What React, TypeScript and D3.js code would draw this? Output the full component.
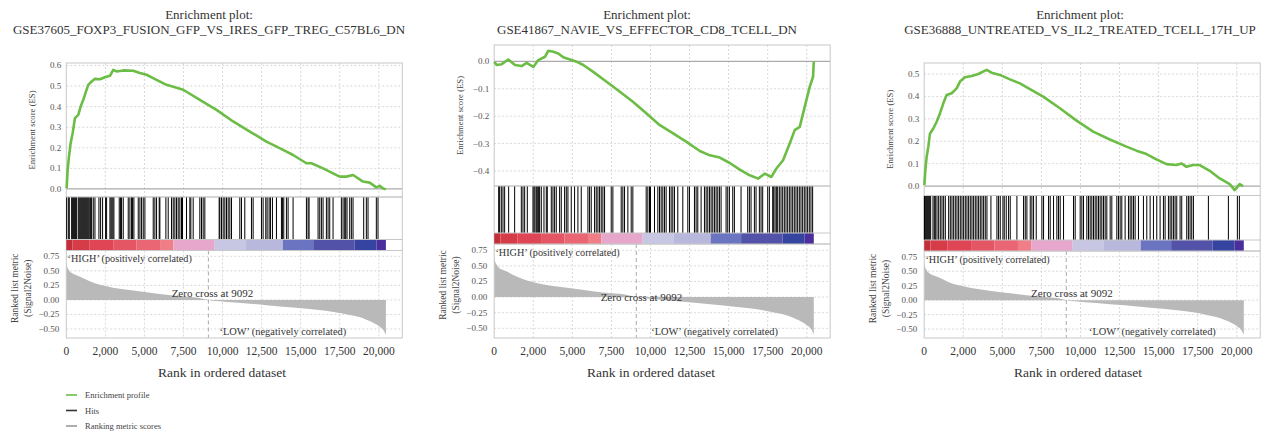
import React from "react";
import * as d3 from "d3";

// ---- data ----
const titles = [
  "GSE37605_FOXP3_FUSION_GFP_VS_IRES_GFP_TREG_C57BL6_DN",
  "GSE41867_NAVIE_VS_EFFECTOR_CD8_TCELL_DN",
  "GSE36888_UNTREATED_VS_IL2_TREATED_TCELL_17H_UP",
];

const xTicks = [0, 2500, 5000, 7500, 10000, 12500, 15000, 17500, 20000];
const xTickLabels = ["0", "2,000", "5,000", "7,500", "10,000", "12,500", "15,000", "17,500", "20,000"];
const zeroCross = 9092;
const listSize = 20450;

// enrichment profiles (rank, ES)
const esRank1 = [21, 85, 170, 277, 405, 554, 767, 916, 1087, 1257, 1406, 1620, 1833, 2152, 2472, 2792, 3005, 3218, 3644, 4283, 4710, 5136, 5775, 6414, 7480, 8545, 9611, 10676, 11742, 12807, 13873, 14512, 15365, 15685, 16430, 17069, 17495, 17921, 18348, 18987, 19413, 19839, 20052, 20266, 20450];
const esScore1 = [0.003, 0.092, 0.157, 0.222, 0.271, 0.344, 0.36, 0.4, 0.433, 0.473, 0.506, 0.522, 0.535, 0.533, 0.543, 0.55, 0.579, 0.571, 0.576, 0.574, 0.563, 0.555, 0.53, 0.506, 0.482, 0.433, 0.384, 0.328, 0.279, 0.23, 0.19, 0.165, 0.125, 0.125, 0.1, 0.076, 0.06, 0.06, 0.068, 0.036, 0.031, 0.008, 0.015, 0.003, -0.002];

const esRank2 = [8, 157, 477, 903, 1330, 1756, 2076, 2502, 2822, 3248, 3461, 3781, 4100, 4420, 4846, 5272, 5698, 6338, 7190, 8043, 8895, 9747, 10600, 11452, 12304, 13157, 13796, 14435, 15074, 15714, 16353, 16886, 17312, 17738, 18058, 18484, 18910, 19230, 19550, 19869, 20189, 20402, 20450];
const esScore2 = [-0.001, -0.013, -0.01, 0.007, -0.013, -0.017, -0.005, -0.02, 0.005, 0.017, 0.039, 0.035, 0.029, 0.015, 0.007, -0.001, -0.013, -0.038, -0.074, -0.111, -0.148, -0.19, -0.233, -0.263, -0.294, -0.327, -0.343, -0.351, -0.371, -0.395, -0.416, -0.428, -0.41, -0.422, -0.391, -0.361, -0.3, -0.251, -0.239, -0.166, -0.093, -0.056, 0.0];

const esRank3 = [9, 72, 158, 264, 371, 584, 797, 1010, 1223, 1436, 1756, 2076, 2289, 2608, 3035, 3461, 3994, 4313, 4846, 5485, 6125, 6764, 7617, 8682, 9748, 10813, 11879, 12944, 13584, 14223, 14862, 15501, 16140, 16460, 16780, 17206, 17632, 18271, 18910, 19550, 19869, 20189, 20402];
const esScore3 = [0.004, 0.071, 0.131, 0.176, 0.235, 0.257, 0.287, 0.324, 0.369, 0.406, 0.414, 0.436, 0.466, 0.485, 0.491, 0.5, 0.518, 0.506, 0.496, 0.476, 0.458, 0.432, 0.399, 0.347, 0.292, 0.243, 0.208, 0.176, 0.158, 0.143, 0.119, 0.098, 0.094, 0.101, 0.086, 0.094, 0.094, 0.068, 0.034, 0.009, -0.018, 0.009, 0.0];

// hit positions (rank)
const hits1 = [21, 128, 192, 341, 405, 469, 533, 597, 661, 767, 831, 895, 959, 1023, 1087, 1151, 1215, 1279, 1342, 1406, 1470, 1556, 1620, 1726, 1833, 2088, 2195, 2323, 2515, 2579, 2792, 2856, 2919, 2983, 3047, 3388, 3474, 3537, 3644, 3964, 4070, 4177, 4241, 4326, 4603, 4710, 4816, 4923, 5029, 5562, 5668, 5775, 5945, 5988, 6372, 6521, 6734, 6841, 6947, 7054, 7160, 7267, 7373, 7437, 7693, 7906, 7970, 8119, 8545, 8652, 8758, 8865, 9781, 9824, 9930, 10037, 10144, 10250, 10357, 10463, 10570, 11103, 11209, 11422, 11848, 11955, 12488, 12594, 12764, 12850, 12978, 13063, 13191, 13447, 13766, 13830, 13916, 14086, 14193, 14512, 15365, 15471, 15535, 16110, 16217, 16323, 16430, 16643, 16750, 16856, 17069, 17602, 17709, 17815, 17879, 17964, 18135, 18241, 18348, 19030, 19200, 19307, 19839, 19946];
const hits2 = [286, 349, 456, 562, 669, 925, 1308, 1735, 1841, 1948, 2118, 2481, 2545, 2609, 2694, 2758, 2843, 2907, 3014, 3184, 3333, 3397, 3653, 3760, 3866, 3973, 4186, 4292, 4505, 4612, 4718, 4931, 5144, 5357, 5570, 5997, 6103, 6210, 6423, 6529, 6636, 6742, 6849, 6955, 7062, 7488, 7594, 8127, 8233, 8340, 8553, 8766, 8872, 9725, 9831, 9938, 10002, 10257, 10470, 10577, 10683, 10790, 10896, 11003, 11216, 11322, 11429, 11535, 11748, 12068, 12388, 12494, 12814, 12920, 13027, 13240, 13453, 13560, 13666, 13773, 13879, 13986, 14092, 14199, 14305, 14412, 14518, 14838, 14944, 15051, 15264, 15370, 15796, 16222, 16329, 16435, 16649, 16755, 16968, 17075, 17181, 17501, 17607, 17820, 17884, 17969, 18054, 18139, 18246, 18352, 18459, 18565, 18672, 18778, 18885, 18991, 19098, 19204, 19311, 19417, 19524, 19630, 19737, 19843, 19950, 20056, 20163, 20269, 20376];
const hits3 = [10, 30, 94, 158, 222, 286, 350, 413, 563, 648, 712, 818, 925, 1031, 1138, 1244, 1351, 1564, 1671, 1777, 1884, 1990, 2097, 2203, 2310, 2417, 2523, 2630, 2736, 2843, 2949, 3056, 3162, 3269, 3376, 3482, 3589, 3695, 3802, 3908, 4015, 4270, 4654, 4760, 4867, 5037, 5122, 5250, 5399, 5506, 5932, 6358, 6465, 6571, 6785, 6891, 6998, 7168, 7530, 7637, 7957, 8063, 8276, 8489, 8596, 8702, 8916, 9555, 9661, 9981, 10088, 10194, 10407, 10514, 10620, 10727, 10833, 10940, 11046, 11153, 11259, 11366, 11472, 11579, 11686, 11899, 12005, 12325, 12431, 12538, 12644, 12857, 13070, 13177, 13284, 13390, 13497, 13710, 14029, 14243, 14456, 14669, 14882, 15095, 15308, 15415, 15628, 15735, 15841, 15948, 16054, 16161, 16374, 16480, 16800, 16906, 17013, 17119, 17226, 18185, 19464, 20039, 20167];

// ranked list metric (rank, signal2noise)
const metricRank = [0, 50, 150, 300, 500, 880, 1500, 2150, 3000, 4290, 5500, 6420, 7500, 8500, 9092, 9620, 11000, 12820, 14500, 16020, 17200, 18150, 18800, 19200, 19700, 20060, 20300, 20450];
const metricValue = [0.66, 0.58, 0.52, 0.47, 0.44, 0.4, 0.32, 0.26, 0.21, 0.16, 0.12, 0.09, 0.06, 0.035, 0.0, -0.02, -0.05, -0.09, -0.13, -0.17, -0.21, -0.26, -0.3, -0.34, -0.4, -0.46, -0.52, -0.6];

// colour bar bands (start rank, colour)
const bandStart = [0, 400, 1500, 3000, 4500, 6000, 6850, 9500, 11500, 13850, 15800, 18450, 19850];
const bandColor = ["#c22f3a", "#d63c48", "#df4555", "#e55665", "#ea6674", "#ef7e86", "#e7a7cc", "#c7c7e4", "#b8b8dc", "#6b74c1", "#5252a9", "#3544a0", "#4a2f9c"];

const legendLabels = ["Enrichment profile", "Hits", "Ranking metric scores"];

// ---- layout ----
const W = 1270;
const H = 434;
const FONT = "'Liberation Serif', 'DejaVu Serif', 'Times New Roman', serif";
const xMax = 21500;
const plotW = 336;
const rankDomain: [number, number] = [-0.655, 0.85];
const rankTicks = [0.75, 0.5, 0.25, 0, -0.25, -0.5];

const panels = [
  { left: 66.3, esTop: 63, esBottom: 197, colorTop: 239.5, colorBottom: 250.5, esDomain: [-0.039, 0.612], esTicks: [0, 0.1, 0.2, 0.3, 0.4, 0.5, 0.6], titleX: 209, labelX: 222, zeroDy: -3, lowRank: 9800, zeroRank: 9350, rank: esRank1, es: esScore1, hits: hits1 },
  { left: 494.2, esTop: 45, esBottom: 186, colorTop: 233, colorBottom: 244, esDomain: [-0.455, 0.06], esTicks: [0, -0.1, -0.2, -0.3, -0.4], titleX: 647, labelX: 651, zeroDy: 4, lowRank: 10050, zeroRank: 9420, rank: esRank2, es: esScore2, hits: hits2 },
  { left: 924.2, esTop: 63, esBottom: 195.5, colorTop: 240, colorBottom: 251, esDomain: [-0.042, 0.549], esTicks: [0, 0.1, 0.2, 0.3, 0.4, 0.5], titleX: 1080, labelX: 1078, zeroDy: -3, lowRank: 10550, zeroRank: 9450, rank: esRank3, es: esScore3, hits: hits3 },
];
const rankBottom = 338;

const gridColor = "#d8d8d8";
const frameColor = "#c8c8c8";
const tickColor = "#555";

function Panel({ p, title }: { p: (typeof panels)[number]; title: string }) {
  const x = d3.scaleLinear().domain([0, xMax]).range([p.left, p.left + plotW]);
  const yEs = d3.scaleLinear().domain(p.esDomain as [number, number]).range([p.esBottom, p.esTop]);
  const yRank = d3.scaleLinear().domain(rankDomain).range([rankBottom, p.colorBottom]);
  const right = p.left + plotW;

  const esPts = p.rank.map((r, i) => [r, p.es[i]] as [number, number]);
  const esLine = d3.line<[number, number]>().x((d) => x(d[0])).y((d) => yEs(d[1]));

  const mPts = metricRank.map((r, i) => [r, metricValue[i]] as [number, number]);
  const mArea = d3
    .area<[number, number]>()
    .x((d) => x(d[0]))
    .y0(yRank(0))
    .y1((d) => yRank(d[1]))
    .curve(d3.curveMonotoneX);

  const fmtEs = d3.format(".1f");
  const fmtRank = d3.format(".2f");

  return (
    <g>
      {/* title */}
      <text x={p.titleX} y={19} textAnchor="middle" fontSize={13} fill="#333">Enrichment plot:</text>
      <text x={p.titleX} y={34} textAnchor="middle" fontSize={13} fill="#333">{title}</text>

      {/* ES panel grid */}
      {xTicks.slice(1).map((t) => (
        <line key={"ev" + t} x1={x(t)} x2={x(t)} y1={p.esTop} y2={p.esBottom} stroke={gridColor} strokeDasharray="2,2" />
      ))}
      {p.esTicks.map((t) => (
        <line key={"eh" + t} x1={p.left} x2={right} y1={yEs(t)} y2={yEs(t)} stroke={t === 0 ? "#aaa" : gridColor} strokeWidth={t === 0 ? 1.2 : 1} strokeDasharray={t === 0 ? undefined : "2,2"} />
      ))}
      {p.esTicks.map((t) => (
        <text key={"et" + t} x={p.left - 5} y={yEs(t) + 3} textAnchor="end" fontSize={9} fill={tickColor}>{fmtEs(t)}</text>
      ))}
      <rect x={p.left} y={p.esTop} width={plotW} height={p.esBottom - p.esTop} fill="none" stroke={frameColor} />
      <text transform={`translate(${p.left - 31},${(p.esTop + p.esBottom) / 2}) rotate(-90)`} textAnchor="middle" fontSize={8.7} fill="#444">Enrichment score (ES)</text>
      <path d={esLine(esPts) || ""} fill="none" stroke="#6cbd45" strokeWidth={2.6} strokeLinejoin="round" />

      {/* hits */}
      <rect x={p.left} y={p.esBottom} width={plotW} height={p.colorBottom - p.esBottom} fill="none" stroke={frameColor} />
      {p.hits.map((h, i) => (
        <line key={"h" + i} x1={x(h)} x2={x(h)} y1={p.esBottom + 0.5} y2={p.colorTop} stroke="#000" strokeWidth={1} />
      ))}
      {/* colour bar */}
      {bandStart.map((s, i) => {
        const e = i < bandStart.length - 1 ? bandStart[i + 1] : listSize;
        return <rect key={"b" + i} x={x(s)} y={p.colorTop} width={x(e) - x(s)} height={p.colorBottom - p.colorTop} fill={bandColor[i]} />;
      })}
      <line x1={p.left} x2={right} y1={p.colorTop} y2={p.colorTop} stroke={frameColor} />

      {/* ranked list metric */}
      {xTicks.slice(1).map((t) => (
        <line key={"rv" + t} x1={x(t)} x2={x(t)} y1={p.colorBottom} y2={rankBottom} stroke={gridColor} strokeDasharray="2,2" />
      ))}
      {rankTicks.map((t) => (
        <line key={"rh" + t} x1={p.left} x2={right} y1={yRank(t)} y2={yRank(t)} stroke={gridColor} strokeDasharray="2,2" />
      ))}
      {rankTicks.map((t) => (
        <text key={"rt" + t} x={p.left - 7} y={yRank(t) + 3} textAnchor="end" fontSize={9} fill={tickColor}>{fmtRank(t)}</text>
      ))}
      <path d={mArea(mPts) || ""} fill="#b9b9b9" />
      <line x1={x(zeroCross)} x2={x(zeroCross)} y1={p.colorBottom} y2={rankBottom} stroke="#aaa" strokeDasharray="4,3" />
      <rect x={p.left} y={p.colorBottom} width={plotW} height={rankBottom - p.colorBottom} fill="none" stroke={frameColor} />
      <text x={x(80)} y={p.colorBottom + 11.5} fontSize={10.2} fill="#333">‘HIGH’ (positively correlated)</text>
      <text x={x(p.zeroRank)} y={yRank(0) + p.zeroDy} textAnchor="middle" fontSize={11} fill="#333">Zero cross at {zeroCross}</text>
      <text x={x(p.lowRank)} y={rankBottom - 3.5} fontSize={10.4} fill="#333">‘LOW’ (negatively correlated)</text>
      <text transform={`translate(${p.left - 48},${(p.colorBottom + rankBottom) / 2 - 6}) rotate(-90)`} textAnchor="middle" fontSize={9.5} fill="#444">
        <tspan x={0} dy={0}>Ranked  list metric</tspan>
        <tspan x={0} dy={12.5}>(Signal2Noise)</tspan>
      </text>

      {/* x axis */}
      {xTicks.map((t, i) => (
        <text key={"xt" + t} x={x(t)} y={355} textAnchor="middle" fontSize={11.5} fill="#333">{xTickLabels[i]}</text>
      ))}
      <text x={p.labelX} y={377} textAnchor="middle" fontSize={13.5} fill="#333">Rank in ordered dataset</text>
    </g>
  );
}

export default function App() {
  const legendColors = ["#6cbd45", "#333", "#999"];
  const legendY = d3.scalePoint<string>().domain(legendLabels).range([395, 426]);
  return (
    <svg width={W} height={H} style={{ position: "absolute", left: 0, top: 0, background: "#fff", fontFamily: FONT }}>
      <rect width={W} height={H} fill="#fff" />
      {panels.map((p, i) => (
        <Panel key={i} p={p} title={titles[i]} />
      ))}
      {legendLabels.map((l, i) => (
        <g key={l}>
          <line x1={66} x2={77} y1={legendY(l)} y2={legendY(l)} stroke={legendColors[i]} strokeWidth={1.6} />
          <text x={85} y={(legendY(l) || 0) + 3} fontSize={8.5} fill="#444">{l}</text>
        </g>
      ))}
    </svg>
  );
}
